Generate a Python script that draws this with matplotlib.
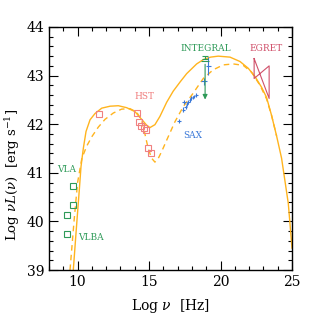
import matplotlib
matplotlib.use("Agg")
import matplotlib.pyplot as plt

plt.rcParams['font.family'] = ['DejaVu Serif']
plt.rcParams['mathtext.fontset'] = 'dejavuserif'

# model curves (log nu, log nuL)
solid_x = [9.70, 9.90, 10.12, 10.24, 10.40, 10.59, 10.87, 11.22, 11.69, 12.27, 12.85,
           13.43, 14.01, 14.48, 14.83, 15.06, 15.41, 15.76, 16.23, 16.69, 17.20, 17.63,
           18.33, 18.80, 19.30, 19.84, 20.66, 21.36, 21.94, 22.41, 22.87, 23.22, 23.57,
           23.92, 24.27, 24.74, 25.00]
solid_y = [39.00, 39.80, 40.65, 41.13, 41.50, 41.85, 42.09, 42.22, 42.33, 42.37, 42.38,
           42.34, 42.26, 42.10, 41.98, 41.93, 41.99, 42.16, 42.45, 42.68, 42.88, 43.04,
           43.24, 43.33, 43.38, 43.40, 43.38, 43.29, 43.15, 42.98, 42.76, 42.55, 42.18,
           41.76, 41.30, 40.37, 39.45]

dash_x = [9.47, 9.75, 10.00, 10.30, 10.64, 10.99, 11.45, 11.92, 12.50, 13.08, 13.66,
          14.13, 14.48, 14.71, 14.94, 15.18, 15.41, 15.65, 15.90, 16.23, 16.81, 17.39,
          18.09, 18.79, 19.49, 20.19, 20.89, 21.59, 22.17, 22.76, 23.22, 23.57, 23.92]
dash_y = [39.00, 40.00, 40.80, 41.30, 41.55, 41.74, 41.94, 42.10, 42.23, 42.31, 42.32,
          42.25, 42.08, 41.80, 41.50, 41.30, 41.22, 41.30, 41.45, 41.67, 42.05, 42.36,
          42.64, 42.94, 43.12, 43.22, 43.24, 43.21, 43.07, 42.80, 42.52, 42.18, 41.76]

# radio (VLA / VLBA)
radio_x = [9.70, 9.70, 9.24, 9.24]
radio_y = [40.72, 40.33, 40.14, 39.74]

# HST
hst_x = [11.52, 14.13, 14.27, 14.43, 14.67, 14.78, 14.95, 15.13]
hst_y = [42.22, 42.24, 42.05, 41.96, 41.92, 41.88, 41.52, 41.40]

# SAX
sax_x = [17.09, 17.40, 17.45, 17.55, 17.65, 17.75, 17.85, 17.95, 18.05, 18.15, 18.30, 18.85, 19.15]
sax_y = [42.07, 42.30, 42.46, 42.36, 42.42, 42.46, 42.50, 42.53, 42.55, 42.57, 42.60, 42.88, 43.20]
sax_xerr = [0.15, 0.10, 0.15, 0.08, 0.08, 0.08, 0.08, 0.08, 0.08, 0.08, 0.10, 0.20, 0.15]
sax_yerr = [0.04, 0.05, 0.04, 0.04, 0.04, 0.04, 0.04, 0.04, 0.04, 0.04, 0.04, 0.07, 0.18]

# INTEGRAL (upper limit)
integ_x = 18.92
integ_top = 43.37
integ_bar = 43.29
integ_lim = 42.45

# EGRET bow tie
egret_x = [22.35, 23.40, 23.40, 22.35, 22.35]
egret_y = [43.35, 42.53, 43.20, 42.94, 43.35]

orange = '#ffb41e'
green = '#2e9a58'
pink = '#f08080'
blue = '#3a78d8'
red = '#d0506a'

fig = plt.figure(figsize=(3.19, 3.19), dpi=100)
ax = fig.add_axes([0.1536, 0.1536, 0.7618, 0.7618])

ax.plot(solid_x, solid_y, color=orange, lw=1.0)
ax.plot(dash_x, dash_y, color=orange, lw=1.0, ls=(0, (4, 3)))

ax.plot(radio_x, radio_y, 's', mfc='none', mec=green, ms=4.2, mew=0.8)
ax.plot(hst_x, hst_y, 's', mfc='none', mec=pink, ms=4.2, mew=0.8)

ax.errorbar(sax_x, sax_y, xerr=sax_xerr, yerr=sax_yerr, fmt='none',
            ecolor=blue, elinewidth=0.8, capsize=0)

ax.errorbar([integ_x], [integ_top], yerr=[0.035], fmt='none', ecolor=green,
            elinewidth=0.8, capsize=2.5, capthick=0.8)
ax.errorbar([integ_x], [integ_bar], xerr=[0.3], fmt='none', ecolor=green, elinewidth=0.8)
ax.annotate('', xy=(integ_x, integ_lim), xytext=(integ_x, integ_bar),
            arrowprops=dict(arrowstyle='-|>', color=green, lw=0.8, mutation_scale=7))

ax.plot(egret_x, egret_y, color=red, lw=0.8)

ax.text(8.56, 41.06, 'VLA', color=green, fontsize=6.5, va='center')
ax.text(10.03, 39.66, 'VLBA', color=green, fontsize=6.5, va='center')
ax.text(14.71, 42.56, 'HST', color=pink, fontsize=6.5, ha='center', va='center')
ax.text(18.98, 43.56, 'INTEGRAL', color=green, fontsize=6.5, ha='center', va='center')
ax.text(23.2, 43.56, 'EGRET', color=red, fontsize=6.5, ha='center', va='center')
ax.text(18.09, 41.76, 'SAX', color=blue, fontsize=6.5, ha='center', va='center')

ax.set_xlim(8, 25)
ax.set_ylim(39, 44)
ax.set_xticks([10, 15, 20, 25])
ax.set_xticks(range(8, 26), minor=True)
ax.set_yticks([39, 40, 41, 42, 43, 44])
ax.set_yticks([39 + 0.2 * i for i in range(26)], minor=True)
ax.tick_params(which='both', direction='in', top=True, right=True, labelsize=10, width=0.8)
ax.tick_params(which='major', length=6.5)
ax.tick_params(which='minor', length=3)
for s in ax.spines.values():
    s.set_linewidth(1.0)

ax.set_xlabel(r'Log $\nu$  [Hz]', fontsize=10, labelpad=6)
ax.set_ylabel(r'Log $\nu L(\nu)$  [erg s$^{-1}$]', fontsize=9.5)
ax.yaxis.set_label_coords(-0.11, 0.39)

fig.savefig('out.png', dpi=100)
